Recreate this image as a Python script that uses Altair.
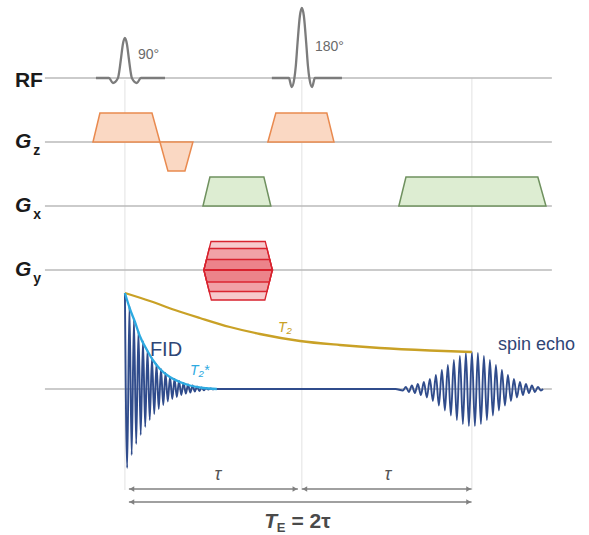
import altair as alt
import pandas as pd

# ---------------- timing (ms) ----------------
T90, T180, TECHO = 0.0, 10.2, 20.0

# row baselines (vertical units, 0 = top)
ROW = {"RF": 78, "Gz": 142, "Gx": 206, "Gy": 270, "S": 389}

# ---------------- RF pulses ----------------
rf90_dt = [-1.67, -0.92, -0.69, -0.40, -0.35, -0.23, -0.115, 0, 0.115, 0.23, 0.35, 0.40, 0.69, 0.92, 2.31]
rf90_amp = [0, 0, -5, 0, 4, 19, 34, 40, 34, 19, 4, 0, -5, 0, 0]
rf180_dt = [-1.73, -0.75, -0.59, -0.43, -0.35, -0.25, -0.115, 0, 0.115, 0.25, 0.35, 0.43, 0.59, 0.75, 2.31]
rf180_amp = [0, 0, -9, 0, 12, 35, 62, 70, 62, 35, 12, 0, -9, 0, 0]

# ---------------- gradients ----------------
gz_t = [[-1.84, -1.44, 1.56, 2.02], [2.02, 2.48, 3.46, 3.92], [8.24, 8.70, 11.64, 12.05]]
gz_amp = [29, -29, 29]
gx_t = [[4.50, 4.90, 8.01, 8.41], [15.79, 16.20, 23.80, 24.27]]
gx_amp = [29, 29]
gy_levels = [28.5, 21.5, 10.5, -12, -21.5, -30]
gy_start, gy_end, gy_ramp_full, gy_full = 4.55, 8.50, 0.41, 28.5

# ---------------- signal ----------------
fid_step = 0.13
fid_amp = [96, -79, 83, -66, 70, -55, 58, -46, 48, -38, 39, -31, 31, -25, 25, -20, 20, -16, 16,
           -12.5, 12, -10, 10, -8, 8, -6, 6, -4.5, 4.5, -3.5, 3.5, -2.5, 2.5, -2, 1.5, -1.2, 1,
           -0.6, 0.5, -0.3, 0]
echo_step = 0.173
echo_amp = [-1.5, 2, -3, 3.5, -4, 5, -6, 7, -8.5, 10, -12, 14, -16.5, 19, -21.5, 24, -26.5, 29,
            -31, 33, -35, 36, -37, 37, -37, 36, -35, 33, -31, 29, -26.5, 24, -21.5, 19, -16.5,
            14, -12, 10, -8.5, 7, -6, 5, -4, 3.5, -3, 2, -1.5]

t2_t = [0, 1.44, 2.88, 4.32, 6.05, 7.78, 10.09, 12.39, 14.70, 17.58, 20.0]
t2_amp = [96, 88, 79, 71, 62, 55, 48, 44, 41, 38.5, 37]
t2s_t = [0, 0.29, 0.58, 0.86, 1.27, 1.61, 2.02, 2.59, 3.17, 3.75, 4.50, 5.30]
t2s_amp = [96, 80, 67, 53, 39, 29, 20, 12, 7, 3.5, 1, 0]

# ---------------- encodings ----------------
XS = alt.Scale(domain=[-7.2, 26.75], nice=False, zero=False)
YS = alt.Scale(domain=[0, 535], reverse=True, nice=False, zero=False)
X = lambda f="t": alt.X(f"{f}:Q", scale=XS, axis=None)
X2 = lambda f="t2": alt.X2(f"{f}:Q")
Y = lambda f="y": alt.Y(f"{f}:Q", scale=YS, axis=None)
Y2 = lambda f="y2": alt.Y2(f"{f}:Q")

FONT = "Liberation Sans"

# baselines
base_df = pd.DataFrame({"row": ["RF", "Gz", "Gx", "Gy", "S"],
                        "y": [ROW[r] for r in ["RF", "Gz", "Gx", "Gy", "S"]],
                        "t": [-4.61] * 5, "t2": [24.61] * 5})
baselines = alt.Chart(base_df).mark_rule(color="#bababa", strokeWidth=1.7).encode(x=X(), x2=X2(), y=Y())

# vertical guides
guide_df = pd.DataFrame({"t": [T90, T180, TECHO], "y": [80, 80, 78], "y2": [490, 490, 490]})
guides = alt.Chart(guide_df).mark_rule(color="#e2e2e2", strokeWidth=1).encode(x=X(), y=Y(), y2=Y2())

# RF line
rf_rows = []
for name, c, dts, amps in [("p90", T90, rf90_dt, rf90_amp), ("p180", T180, rf180_dt, rf180_amp)]:
    for d, a in zip(dts, amps):
        rf_rows.append({"p": name, "t": c + d, "y": ROW["RF"] - a})
rf = alt.Chart(pd.DataFrame(rf_rows)).mark_line(color="#7c7c7c", strokeWidth=2.3,
                                               interpolate="monotone").encode(x=X(), y=Y(), detail="p:N")


def trap_rows(ts_list, amps, base, prefix):
    rows = []
    for i, (ts, a) in enumerate(zip(ts_list, amps)):
        for t, h in zip(ts, [0, a, a, 0]):
            rows.append({"g": f"{prefix}{i}", "t": t, "y": base - h, "y2": base})
    return pd.DataFrame(rows)


gz = alt.Chart(trap_rows(gz_t, gz_amp, ROW["Gz"], "z")).mark_area(
    fill="#fad8c3", stroke="#e98a4f", strokeWidth=1.5, interpolate="linear").encode(
    x=X(), y=Y(), y2=Y2(), detail="g:N")
gx = alt.Chart(trap_rows(gx_t, gx_amp, ROW["Gx"], "x")).mark_area(
    fill="#ddedd2", stroke="#6f915f", strokeWidth=1.5, interpolate="linear").encode(
    x=X(), y=Y(), y2=Y2(), detail="g:N")

gy_ts = []
for lv in gy_levels:
    r = gy_ramp_full * abs(lv) / gy_full
    gy_ts.append([gy_start, gy_start + r, gy_end - r, gy_end])
gy = alt.Chart(trap_rows(gy_ts, gy_levels, ROW["Gy"], "y")).mark_area(
    fill="#e0303a", fillOpacity=0.26, stroke="#d8222e", strokeWidth=1.3, interpolate="linear").encode(
    x=X(), y=Y(), y2=Y2(), detail="g:N")

# signal
sig_rows = [{"t": T90 + i * fid_step, "y": ROW["S"] - a} for i, a in enumerate(fid_amp)]
sig_rows.append({"t": 15.6, "y": ROW["S"]})
n = len(echo_amp)
for i, a in enumerate(echo_amp):
    sig_rows.append({"t": TECHO + (i - n // 2) * echo_step, "y": ROW["S"] - a})
sig_rows.append({"t": 24.1, "y": ROW["S"]})
signal = alt.Chart(pd.DataFrame(sig_rows)).mark_line(color="#304c8c", strokeWidth=1.9,
                                                     interpolate="monotone").encode(x=X(), y=Y())

t2 = alt.Chart(pd.DataFrame({"t": t2_t, "y": [ROW["S"] - a for a in t2_amp]})).mark_line(
    color="#c9a126", strokeWidth=2.3, interpolate="monotone").encode(x=X(), y=Y())
t2s = alt.Chart(pd.DataFrame({"t": t2s_t, "y": [ROW["S"] - a for a in t2s_amp]})).mark_line(
    color="#2daae1", strokeWidth=2.3, interpolate="monotone").encode(x=X(), y=Y())

# arrows
arr_df = pd.DataFrame({"t": [0.23, 10.2, 0.23], "t2": [9.97, 19.98, 19.98], "y": [489, 489, 502]})
arrows = alt.Chart(arr_df).mark_rule(color="#808080", strokeWidth=1.4).encode(x=X(), x2=X2(), y=Y())
headL = alt.Chart(pd.DataFrame({"t": [0.4, 10.37, 0.4], "y": [489, 489, 502]})).mark_point(
    shape="triangle-left", filled=True, size=30, color="#808080", opacity=1).encode(x=X(), y=Y())
headR = alt.Chart(pd.DataFrame({"t": [9.8, 19.81, 19.81], "y": [489, 489, 502]})).mark_point(
    shape="triangle-right", filled=True, size=30, color="#808080", opacity=1).encode(x=X(), y=Y())


def txt(df, **kw):
    return alt.Chart(pd.DataFrame(df)).mark_text(font=FONT, **kw).encode(x=X(), y=Y(), text="s:N")


labels = [
    txt({"t": [-6.34], "y": [81], "s": ["RF"]}, fontSize=21, fontWeight="bold", align="left", baseline="middle", color="#1a1a1a"),
    txt({"t": [-6.34] * 3, "y": [142, 206, 270], "s": ["G", "G", "G"]}, fontSize=21, fontWeight="bold",
        fontStyle="italic", align="left", baseline="middle", color="#1a1a1a"),
    txt({"t": [-5.28] * 3, "y": [151, 215, 279], "s": ["z", "x", "y"]}, fontSize=14, fontWeight="bold",
        align="left", baseline="middle", color="#1a1a1a"),
    txt({"t": [0.75, 10.95], "y": [55, 47], "s": ["90°", "180°"]}, fontSize=14, align="left",
        baseline="middle", color="#6a6a6a"),
    txt({"t": [1.44], "y": [350], "s": ["FID"]}, fontSize=20, align="left", baseline="middle", color="#2f4676"),
    txt({"t": [21.5], "y": [345], "s": ["spin echo"]}, fontSize=18, align="left", baseline="middle", color="#2f4676"),
    txt({"t": [3.75], "y": [371], "s": ["T₂*"]}, fontSize=14, fontStyle="italic", align="left",
        baseline="middle", color="#2daae1"),
    txt({"t": [8.82], "y": [328], "s": ["T₂"]}, fontSize=14, fontStyle="italic", align="left",
        baseline="middle", color="#c9a126"),
    txt({"t": [5.36, 15.16], "y": [475, 475], "s": ["τ", "τ"]}, fontSize=18, fontStyle="italic",
        align="center", baseline="middle", color="#555555"),
    txt({"t": [8.77], "y": [522], "s": ["T"]}, fontSize=21, fontStyle="italic", fontWeight="bold",
        align="right", baseline="middle", color="#4a4a4a"),
    txt({"t": [8.75], "y": [528], "s": ["E"]}, fontSize=13, fontWeight="bold", align="left",
        baseline="middle", color="#4a4a4a"),
    txt({"t": [9.6], "y": [522], "s": ["= 2τ"]}, fontSize=21, fontWeight="bold", align="left",
        baseline="middle", color="#4a4a4a"),
]

chart = alt.layer(
    guides, baselines, gz, gx, gy, rf, signal, t2, t2s, arrows, headL, headR, *labels
).properties(
    width=589, height=535, padding=0, autosize=alt.AutoSizeParams(type="none"),
    background="white"
).configure_view(stroke=None)

chart.save("out.html", embed_options={"renderer": "svg", "actions": False})
